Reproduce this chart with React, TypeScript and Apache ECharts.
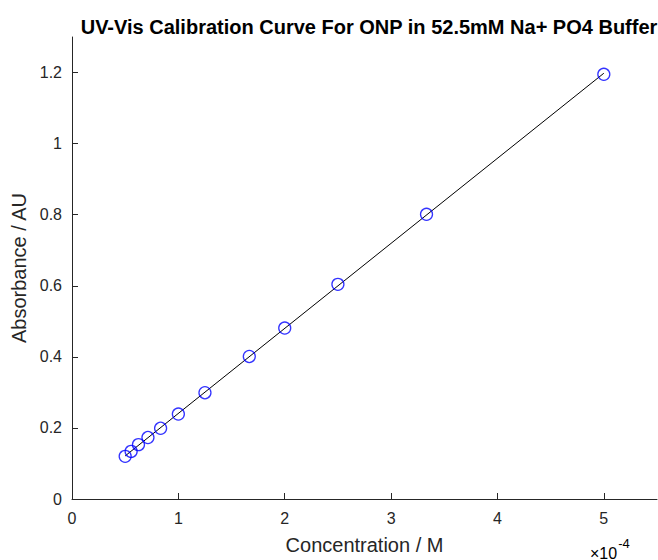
import React, { useEffect, useRef } from "react";
import * as echarts from "echarts";

// Concentration in units of 1e-4 M
const concentration: number[] = [5.0, 3.333, 2.5, 2.0, 1.667, 1.25, 1.0, 0.833, 0.714, 0.625, 0.556, 0.5];
const absorbance: number[] = [1.195, 0.801, 0.604, 0.481, 0.401, 0.299, 0.239, 0.199, 0.173, 0.153, 0.134, 0.12];
const xTicks: number[] = [0, 1, 2, 3, 4, 5];
const yTicks: number[] = [0, 0.2, 0.4, 0.6, 0.8, 1.0, 1.2];

const TITLE = "UV-Vis Calibration Curve For ONP in 52.5mM Na+ PO4 Buffer";
const FONT = "'Liberation Sans', Arial, Helvetica, sans-serif";
const AXIS_COLOR = "#262626";

function fitLine(xs: number[], ys: number[]) {
  const n = xs.length;
  const mx = xs.reduce((a, b) => a + b, 0) / n;
  const my = ys.reduce((a, b) => a + b, 0) / n;
  let sxy = 0;
  let sxx = 0;
  for (let i = 0; i < n; i++) {
    sxy += (xs[i] - mx) * (ys[i] - my);
    sxx += (xs[i] - mx) * (xs[i] - mx);
  }
  const slope = sxy / sxx;
  const intercept = my - slope * mx;
  return { slope, intercept };
}

export default function App() {
  const ref = useRef<HTMLDivElement>(null);
  useEffect(() => {
    if (!ref.current) return;
    const chart = echarts.init(ref.current, undefined, { renderer: "svg" });
    const { slope, intercept } = fitLine(concentration, absorbance);
    const xmin = Math.min(...concentration);
    const xmax = Math.max(...concentration);
    const lineData = [
      [xmin, intercept + slope * xmin],
      [xmax, intercept + slope * xmax],
    ];
    const points = concentration.map((c, i) => [c, absorbance[i]]);
    chart.setOption({
      animation: false,
      backgroundColor: "#ffffff",
      textStyle: { fontFamily: FONT },
      title: {
        text: TITLE,
        left: 364,
        textAlign: "center",
        top: 12,
        textStyle: { fontFamily: FONT, fontWeight: "bold", fontSize: 20, color: "#000000" },
      },
      grid: { left: 72, right: 1, top: 37, bottom: 60, containLabel: false },
      xAxis: {
        type: "value",
        min: 0,
        max: 5.5,
        interval: 1,
        name: "Concentration / M",
        nameLocation: "middle",
        nameGap: 36,
        nameTextStyle: { fontFamily: FONT, fontSize: 20, color: AXIS_COLOR },
        axisLine: { show: true, onZero: false, lineStyle: { color: AXIS_COLOR, width: 1 } },
        axisTick: { show: true, inside: true, length: 6, customValues: xTicks, lineStyle: { color: AXIS_COLOR } },
        axisLabel: { customValues: xTicks, fontFamily: FONT, fontSize: 16, color: AXIS_COLOR, margin: 11 },
        splitLine: { show: false },
      },
      yAxis: {
        type: "value",
        min: 0,
        max: 1.3,
        interval: 0.1,
        name: "Absorbance / AU",
        nameLocation: "middle",
        nameGap: 41,
        nameTextStyle: { fontFamily: FONT, fontSize: 20, color: AXIS_COLOR },
        axisLine: { show: true, onZero: false, lineStyle: { color: AXIS_COLOR, width: 1 } },
        axisTick: { show: true, inside: true, length: 6, customValues: yTicks, lineStyle: { color: AXIS_COLOR } },
        axisLabel: {
          customValues: yTicks,
          fontFamily: FONT,
          fontSize: 16,
          color: AXIS_COLOR,
          margin: 10,
          formatter: (v: number) => String(Math.round(v * 10) / 10),
        },
        splitLine: { show: false },
      },
      graphic: [
        {
          type: "text",
          left: 590,
          top: 537,
          style: {
            text: "{a|×10}{b|-4}",
            rich: {
              a: { fontFamily: FONT, fontSize: 16, color: AXIS_COLOR, verticalAlign: "bottom", padding: [8, 0, 0, 0] },
              b: { fontFamily: FONT, fontSize: 13, color: AXIS_COLOR, verticalAlign: "top", padding: [0, 0, 8, 1] },
            },
          },
        },
      ],
      series: [
        {
          type: "line",
          data: lineData,
          showSymbol: false,
          symbol: "none",
          lineStyle: { color: "#000000", width: 1 },
          silent: true,
          z: 2,
        },
        {
          type: "scatter",
          data: points,
          symbol: "circle",
          symbolSize: 12,
          itemStyle: { color: "rgba(0,0,0,0)", borderColor: "#0000ff", borderWidth: 1.3 },
          z: 3,
        },
      ],
    });
    return () => chart.dispose();
  }, []);
  return (
    <div
      ref={ref}
      style={{ position: "absolute", left: 0, top: 0, width: 658, height: 560, background: "#fff" }}
    />
  );
}
